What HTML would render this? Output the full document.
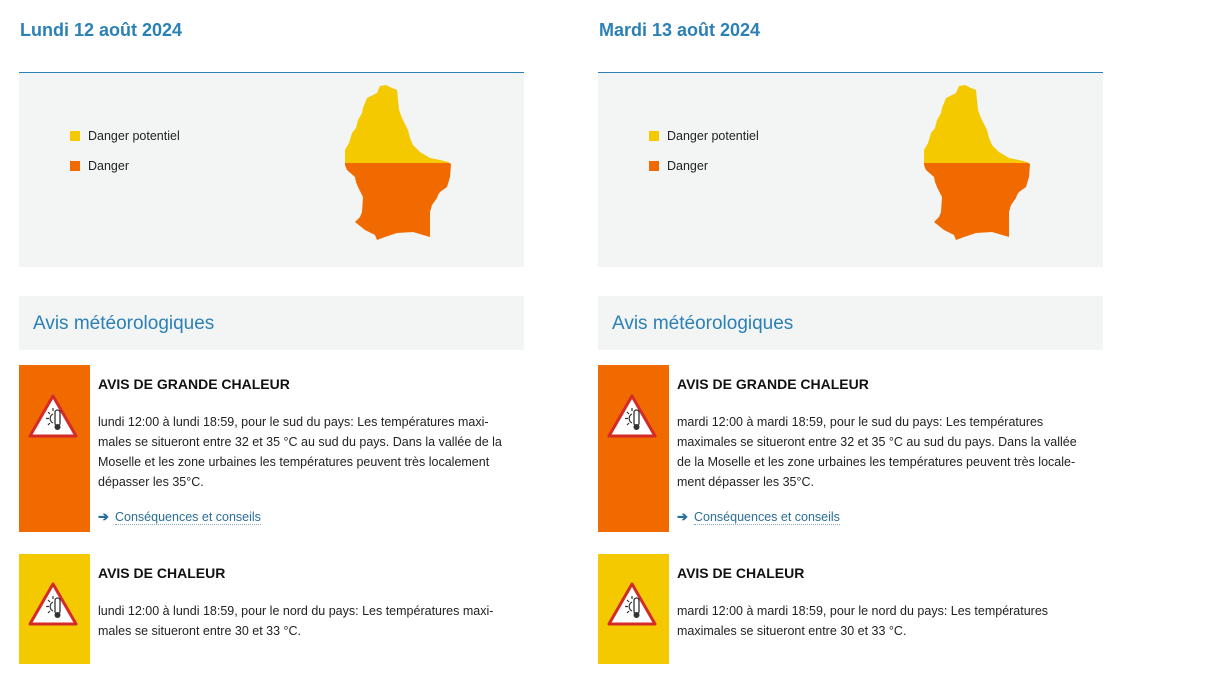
<!DOCTYPE html>
<html><head><meta charset="utf-8"><style>
*{margin:0;padding:0;box-sizing:border-box}
body{width:1224px;height:689px;background:#fff;font-family:"Liberation Sans",sans-serif;position:relative;overflow:hidden;color:#222}
.a{position:absolute}
.t{font-size:18px;font-weight:bold;color:#2b80b5;top:20px}
.ln{height:1px;background:#2b80b5;width:505px;top:72px}
.gb{background:#f3f4f4;width:505px;top:73px;height:194px}
.sq{width:10px;height:10px}
.lg{font-size:12.5px;color:#222}
.ah{background:#f3f4f4;width:505px;top:296px;height:54px;font-size:19px;color:#2b80b5;padding:17px 0 0 14px}
.bar{width:71px}
.h{font-size:14px;font-weight:bold;color:#111}
.p{font-size:12.5px;line-height:20px;color:#222;width:425px}
.lk{font-size:12.5px;color:#2a6e9a;border-bottom:1px dotted #8ab}
</style></head><body>
<svg width="0" height="0" style="position:absolute"><defs>
<path id="lux" d="M380,86 L386,85 L392,88 L397,90 L398,100 L399,110 L402,118 L408,130 L410,138 L413,145 L420,152 L430,158 L440,160 L448,162 L451,164 L450,177 L447,187 L440,192 L438,195 L437,198 L432,205 L430,212 L430,237 L413,232 L397,233 L385,237 L377,240 L375,235 L365,230 L355,222 L360,217 L362,212 L363,197 L358,187 L356,182 L355,177 L347,170 L345,165 L345,150 L349,143 L352,133 L356,128 L358,120 L362,113 L363,108 L365,103 L367,98 L377,93 Z"/>
<clipPath id="cy"><rect x="0" y="0" width="600" height="163"/></clipPath>
<clipPath id="co"><rect x="0" y="163" width="600" height="200"/></clipPath>
<g id="ic"><path d="M25,3 L48,43 L2,43 Z" fill="#fff" stroke="#d42a2a" stroke-width="3" stroke-linejoin="round"/>
<rect x="27" y="17" width="5" height="16" rx="2.5" fill="none" stroke="#333" stroke-width="1.3"/><circle cx="29.5" cy="34" r="3" fill="#333"/>
<path d="M25,21 A5,5 0 0 0 25,30" fill="none" stroke="#333" stroke-width="1.2"/>
<path d="M21,25.5 h-3 M22,21 l-2,-2 M22,30 l-2,2 M25,18 v-3" stroke="#333" stroke-width="1.2"/></g>
</defs></svg>

<!-- LEFT -->
<div class="a t" style="left:20px">Lundi 12 août 2024</div>
<div class="a ln" style="left:19px"></div>
<div class="a gb" style="left:19px"></div>
<div class="a sq" style="left:70px;top:131px;background:#f4c900"></div>
<div class="a lg" style="left:88px;top:129px">Danger potentiel</div>
<div class="a sq" style="left:70px;top:161px;background:#f06a00"></div>
<div class="a lg" style="left:88px;top:159px">Danger</div>
<svg class="a" style="left:0;top:0" width="600" height="300"><use href="#lux" fill="#f4c900" clip-path="url(#cy)"/><use href="#lux" fill="#f06a00" clip-path="url(#co)"/></svg>
<div class="a ah" style="left:19px">Avis météorologiques</div>
<div class="a bar" style="left:19px;top:365px;height:167px;background:#f06a00"></div>
<svg class="a" style="left:28px;top:393px" width="52" height="48"><use href="#ic"/></svg>
<div class="a h" style="left:98px;top:376px">AVIS DE GRANDE CHALEUR</div>
<div class="a p" style="left:98px;top:412px">lundi 12:00 à lundi 18:59, pour le sud du pays: Les températures maxi-<br>males se situeront entre 32 et 35 °C au sud du pays. Dans la vallée de la<br>Moselle et les zone urbaines les températures peuvent très localement<br>dépasser les 35°C.</div>
<div class="a" style="left:98px;top:509px;font-size:13px;color:#2a6e9a;font-weight:bold">➔</div>
<div class="a lk" style="left:115px;top:510px">Conséquences et conseils</div>
<div class="a bar" style="left:19px;top:554px;height:110px;background:#f4c900"></div>
<svg class="a" style="left:28px;top:581px" width="52" height="48"><use href="#ic"/></svg>
<div class="a h" style="left:98px;top:565px">AVIS DE CHALEUR</div>
<div class="a p" style="left:98px;top:601px">lundi 12:00 à lundi 18:59, pour le nord du pays: Les températures maxi-<br>males se situeront entre 30 et 33 °C.</div>

<!-- RIGHT -->
<div class="a t" style="left:599px">Mardi 13 août 2024</div>
<div class="a ln" style="left:598px"></div>
<div class="a gb" style="left:598px"></div>
<div class="a sq" style="left:649px;top:131px;background:#f4c900"></div>
<div class="a lg" style="left:667px;top:129px">Danger potentiel</div>
<div class="a sq" style="left:649px;top:161px;background:#f06a00"></div>
<div class="a lg" style="left:667px;top:159px">Danger</div>
<svg class="a" style="left:579px;top:0" width="600" height="300"><use href="#lux" fill="#f4c900" clip-path="url(#cy)"/><use href="#lux" fill="#f06a00" clip-path="url(#co)"/></svg>
<div class="a ah" style="left:598px">Avis météorologiques</div>
<div class="a bar" style="left:598px;top:365px;height:167px;background:#f06a00"></div>
<svg class="a" style="left:607px;top:393px" width="52" height="48"><use href="#ic"/></svg>
<div class="a h" style="left:677px;top:376px">AVIS DE GRANDE CHALEUR</div>
<div class="a p" style="left:677px;top:412px">mardi 12:00 à mardi 18:59, pour le sud du pays: Les températures<br>maximales se situeront entre 32 et 35 °C au sud du pays. Dans la vallée<br>de la Moselle et les zone urbaines les températures peuvent très locale-<br>ment dépasser les 35°C.</div>
<div class="a" style="left:677px;top:509px;font-size:13px;color:#2a6e9a;font-weight:bold">➔</div>
<div class="a lk" style="left:694px;top:510px">Conséquences et conseils</div>
<div class="a bar" style="left:598px;top:554px;height:110px;background:#f4c900"></div>
<svg class="a" style="left:607px;top:581px" width="52" height="48"><use href="#ic"/></svg>
<div class="a h" style="left:677px;top:565px">AVIS DE CHALEUR</div>
<div class="a p" style="left:677px;top:601px">mardi 12:00 à mardi 18:59, pour le nord du pays: Les températures<br>maximales se situeront entre 30 et 33 °C.</div>
</body></html>
